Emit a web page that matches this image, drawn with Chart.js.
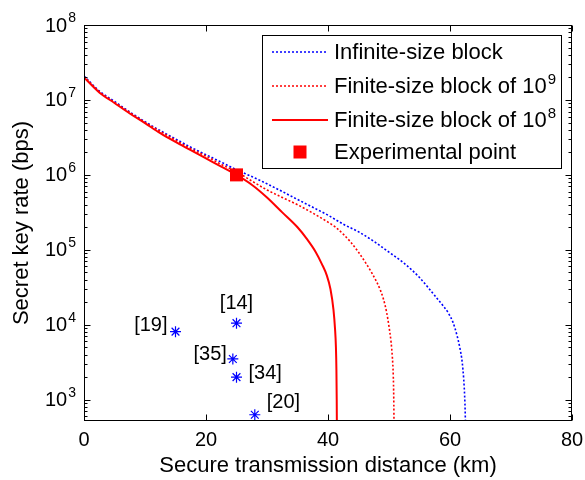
<!DOCTYPE html>
<html>
<head>
<meta charset="utf-8">
<script src="https://cdn.jsdelivr.net/npm/chart.js@4"></script>
<style>
html,body{margin:0;padding:0;background:#fff;}
#wrap{width:585px;height:480px;position:relative;}
</style>
</head>
<body>
<div id="wrap"><canvas id="c" width="585" height="480"></canvas></div>
<script>
// ---- data ----
const infDist  = [0, 2.5, 5, 7.5, 10, 12.5, 15, 17.5, 20, 22.5, 25, 27.5, 30, 32.5, 35, 37.5, 40, 42.5, 45, 47.5, 50, 52.5, 55, 57.5, 59, 59.7, 60.5, 61.15, 61.6, 62.0, 62.25, 62.4, 62.5, 62.56];
const infRate  = [2.09e7, 1.32e7, 9.55e6, 6.92e6, 5.13e6, 3.89e6, 3.02e6, 2.34e6, 1.86e6, 1.48e6, 1.17e6, 9.5e5, 7.6e5, 6.0e5, 4.7e5, 3.7e5, 2.9e5, 2.2e5, 1.74e5, 1.3e5, 9.3e4, 6.6e4, 4.27e4, 2.45e4, 1.74e4, 1.45e4, 1.07e4, 7.2e3, 5.0e3, 3.16e3, 1.86e3, 1.12e3, 630, 316];

const fin9Dist = [0, 2.5, 5, 7.5, 10, 12.5, 15, 17.5, 20, 22.5, 25, 27.5, 30, 32.5, 35, 37.5, 40, 41.25, 42.5, 43.75, 45, 46.3, 47.2, 48.0, 48.6, 49.1, 49.6, 50.0, 50.35, 50.55, 50.7, 50.78, 50.83];
const fin9Rate = [2.05e7, 1.29e7, 9.3e6, 6.8e6, 5.0e6, 3.8e6, 2.9e6, 2.24e6, 1.78e6, 1.38e6, 1.10e6, 8.3e5, 6.3e5, 5.0e5, 4.0e5, 3.09e5, 2.34e5, 2.0e5, 1.62e5, 1.26e5, 9.3e4, 6.46e4, 4.9e4, 3.7e4, 2.88e4, 2.19e4, 1.48e4, 9.5e3, 5.75e3, 3.7e3, 2.1e3, 1.05e3, 400];

const fin8Dist = [0, 2.5, 5, 7.5, 10, 12.5, 15, 17.5, 20, 22.5, 25, 27.5, 30, 32.5, 35, 36.5, 38, 39, 39.8, 40.4, 40.9, 41.15, 41.3, 41.38, 41.43, 41.46];
const fin8Rate = [2.0e7, 1.26e7, 9.1e6, 6.6e6, 4.9e6, 3.6e6, 2.75e6, 2.14e6, 1.66e6, 1.29e6, 1.0e6, 7.4e5, 5.0e5, 3.16e5, 2.0e5, 1.41e5, 9.3e4, 6.46e4, 4.57e4, 3.0e4, 1.58e4, 8.9e3, 5.0e3, 2.5e3, 1.0e3, 400];

const expDist = [25];
const expRate = [1.0e6];

const refLabels = ['[19]', '[14]', '[35]', '[34]', '[20]'];
const refDist   = [15, 25, 24.4, 25, 28];
const refRate   = [8.1e3, 1.05e4, 3.5e3, 2.0e3, 630];

const xTickValues = [0, 20, 40, 60, 80];
const yTickValues = [1e3, 1e4, 1e5, 1e6, 1e7, 1e8];
const yTickLabels = ['10\u00B3', '10\u2074', '10\u2075', '10\u2076', '10\u2077', '10\u2078'];

const seriesLabels = ['Infinite-size block', 'Finite-size block of 10\u2079', 'Finite-size block of 10\u2078', 'Experimental point'];

// ---- chart ----
const FONT = "'Liberation Sans', Arial, Helvetica, sans-serif";
const toXY = (xs, ys) => xs.map((x, i) => ({x: x, y: ys[i]}));
const SUP = {'\u2070':'0','\u00B9':'1','\u00B2':'2','\u00B3':'3','\u2074':'4','\u2075':'5','\u2076':'6','\u2077':'7','\u2078':'8','\u2079':'9'};

function splitSup(t) {
  let i = t.length;
  while (i > 0 && SUP[t[i - 1]] !== undefined) i--;
  return {base: t.slice(0, i), exp: t.slice(i).split('').map(c => SUP[c]).join('')};
}

function drawSupText(ctx, t, x, y, baseSize, expSize, rise, align) {
  const p = splitSup(t);
  ctx.font = baseSize + 'px ' + FONT;
  const bw = ctx.measureText(p.base).width;
  ctx.font = expSize + 'px ' + FONT;
  const ew = p.exp ? ctx.measureText(p.exp).width + 1 : 0;
  let left = x;
  if (align === 'right') left = x - bw - ew;
  ctx.textAlign = 'left';
  ctx.textBaseline = 'middle';
  ctx.font = baseSize + 'px ' + FONT;
  ctx.fillText(p.base, left, y);
  if (p.exp) {
    ctx.font = expSize + 'px ' + FONT;
    ctx.fillText(p.exp, left + bw + 1, y - rise);
  }
}

const PLOT = {left: 84, right: 572, top: 25, bottom: 421};

const frame = {
  id: 'frame',
  afterDatasetsDraw(chart) {
    const ctx = chart.ctx, a = chart.chartArea;
    const xs = chart.scales.x, ys = chart.scales.y;
    ctx.save();
    ctx.strokeStyle = '#000';
    ctx.lineWidth = 1;
    const L = Math.round(a.left) + 0.5, R = Math.round(a.right) - 0.5;
    const T = Math.round(a.top) + 0.5, B = Math.round(a.bottom) - 0.5;
    ctx.beginPath();
    xTickValues.forEach(v => {
      const px = Math.round(xs.getPixelForValue(v)) + 0.5;
      ctx.moveTo(px, B); ctx.lineTo(px, B - 6);
      ctx.moveTo(px, T); ctx.lineTo(px, T + 6);
    });
    for (let d = 100; d <= 1e8; d *= 10) {
      for (let m = 1; m <= 9; m++) {
        const v = d * m;
        if (v < ys.min || v > ys.max) continue;
        const py = Math.round(ys.getPixelForValue(v)) + 0.5;
        const len = (m === 1) ? 6 : 3;
        ctx.moveTo(L, py); ctx.lineTo(L + len, py);
        ctx.moveTo(R, py); ctx.lineTo(R - len, py);
      }
    }
    ctx.stroke();
    ctx.strokeRect(L, T, R - L, B - T);

    // y tick labels 10^n
    ctx.fillStyle = '#000';
    yTickValues.forEach((v, i) => {
      const py = ys.getPixelForValue(v);
      drawSupText(ctx, yTickLabels[i], 76, py + 1, 20, 14, 8, 'right');
    });

    // reference labels next to the asterisks
    ctx.font = '20px ' + FONT;
    ctx.textBaseline = 'middle';
    const place = [
      {align: 'right', dx: -8, dy: -6},
      {align: 'center', dx: 0, dy: -20},
      {align: 'right', dx: -6, dy: -4},
      {align: 'left', dx: 12, dy: -4},
      {align: 'left', dx: 12, dy: -12}
    ];
    refLabels.forEach((t, i) => {
      const px = xs.getPixelForValue(refDist[i]);
      const py = ys.getPixelForValue(refRate[i]);
      ctx.textAlign = place[i].align;
      ctx.fillText(t, px + place[i].dx, py + place[i].dy);
    });

    // legend box
    const bx = 262.5, by = 35.5, bw = 299, bh = 133;
    ctx.fillStyle = '#fff';
    ctx.fillRect(bx, by, bw, bh);
    ctx.strokeStyle = '#000';
    ctx.lineWidth = 1;
    ctx.strokeRect(bx, by, bw, bh);
    const rows = [52, 86, 120, 152];
    const ds = chart.data.datasets;
    for (let i = 0; i < 3; i++) {
      const d = ds[i];
      ctx.save();
      ctx.strokeStyle = d.borderColor;
      ctx.lineWidth = d.borderWidth;
      ctx.setLineDash(d.borderDash || []);
      ctx.beginPath();
      ctx.moveTo(272, rows[i]); ctx.lineTo(328, rows[i]);
      ctx.stroke();
      ctx.restore();
      ctx.fillStyle = '#000';
      drawSupText(ctx, d.label, 334, rows[i] + 1, 22, 15, 7, 'left');
    }
    ctx.fillStyle = ds[3].backgroundColor;
    ctx.fillRect(293.5, rows[3] - 6.5, 13, 13);
    ctx.fillStyle = '#000';
    drawSupText(ctx, ds[3].label, 334, rows[3] + 1, 22, 15, 7, 'left');
    ctx.restore();
  }
};

new Chart(document.getElementById('c'), {
  type: 'line',
  data: {
    datasets: [
      {label: seriesLabels[0], data: toXY(infDist, infRate), borderColor: '#0000ff', borderWidth: 1.6, borderDash: [2, 2], pointRadius: 0, fill: false, cubicInterpolationMode: 'monotone', order: 3},
      {label: seriesLabels[1], data: toXY(fin9Dist, fin9Rate), borderColor: '#ff0000', borderWidth: 1.6, borderDash: [2, 2], pointRadius: 0, fill: false, cubicInterpolationMode: 'monotone', order: 2},
      {label: seriesLabels[2], data: toXY(fin8Dist, fin8Rate), borderColor: '#ff0000', borderWidth: 2, pointRadius: 0, fill: false, cubicInterpolationMode: 'monotone', order: 1},
      {label: seriesLabels[3], type: 'scatter', data: toXY(expDist, expRate), backgroundColor: '#ff0000', borderColor: '#ff0000', pointStyle: 'rect', pointRadius: 9.2, borderWidth: 0, order: 0},
      {label: 'References', type: 'scatter', data: toXY(refDist, refRate), borderColor: '#0000ff', backgroundColor: '#0000ff', pointStyle: 'star', pointRadius: 5.5, borderWidth: 1.2, order: 0}
    ]
  },
  options: {
    responsive: false,
    animation: false,
    devicePixelRatio: 1,
    layout: {padding: {left: 0, right: 585 - PLOT.right, top: PLOT.top, bottom: 0}},
    plugins: {legend: {display: false}, tooltip: {enabled: false}},
    scales: {
      x: {
        type: 'linear', min: 0, max: 80,
        afterBuildTicks: s => { s.ticks = xTickValues.map(v => ({value: v})); },
        afterFit: s => { s.height = 480 - PLOT.bottom; s.paddingLeft = 0; s.paddingRight = 0; },
        grid: {display: false, drawTicks: false},
        border: {display: false},
        ticks: {color: '#000', font: {family: FONT, size: 20}, padding: 7, maxRotation: 0},
        title: {display: true, text: 'Secure transmission distance (km)', color: '#000', font: {family: FONT, size: 22}, padding: {top: 0, bottom: 1}}
      },
      y: {
        type: 'logarithmic', min: 520, max: 1e8,
        afterBuildTicks: s => { s.ticks = yTickValues.map(v => ({value: v})); },
        afterFit: s => { s.width = PLOT.left; s.paddingTop = 0; s.paddingBottom = 0; },
        grid: {display: false, drawTicks: false},
        border: {display: false},
        ticks: {display: false},
        title: {display: true, text: 'Secret key rate (bps)', color: '#000', font: {family: FONT, size: 22}, padding: {top: 9, bottom: 0}}
      }
    }
  },
  plugins: [frame]
});
</script>
</body>
</html>
